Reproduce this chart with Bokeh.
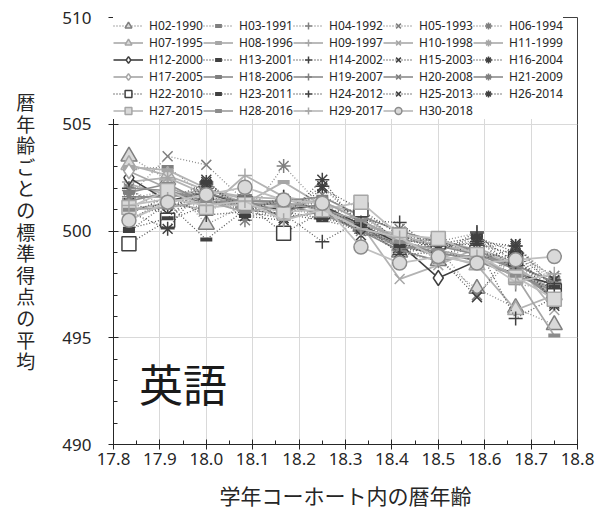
from bokeh.plotting import figure
from bokeh.models import (Legend, LegendItem, NumeralTickFormatter, FixedTicker, Range1d)
from bokeh.core.properties import value
from bokeh.embed import file_html
from bokeh.resources import INLINE

ages = [17.8333, 17.9167, 18.0, 18.0833, 18.1667, 18.25,
        18.3333, 18.4167, 18.5, 18.5833, 18.6667, 18.75]

series_names = [
    "H02-1990", "H03-1991", "H04-1992", "H05-1993", "H06-1994",
    "H07-1995", "H08-1996", "H09-1997", "H10-1998", "H11-1999",
    "H12-2000", "H13-2001", "H14-2002", "H15-2003", "H16-2004",
    "H17-2005", "H18-2006", "H19-2007", "H20-2008", "H21-2009",
    "H22-2010", "H23-2011", "H24-2012", "H25-2013", "H26-2014",
    "H27-2015", "H28-2016", "H29-2017", "H30-2018",
]

H02 = [503.5, 502.4, 500.3, 501.2, 501.0, 500.8, 500.2, 499.0, 498.6, 497.3, 496.4, 495.6]
H03 = [502.9, 503.0, 501.6, 501.1, 500.9, 501.4, 500.0, 499.3, 499.2, 499.6, 498.2, 497.8]
H04 = [501.5, 501.9, 500.9, 501.7, 501.1, 501.2, 499.9, 499.6, 499.5, 499.9, 497.5, 497.3]
H05 = [501.6, 503.5, 503.1, 501.4, 500.9, 501.7, 500.6, 500.1, 499.2, 497.0, 498.9, 497.9]
H06 = [501.9, 501.2, 502.1, 500.5, 503.05, 501.1, 500.7, 499.5, 498.7, 499.3, 499.3, 497.5]
H07 = [503.1, 502.6, 501.9, 501.5, 501.3, 501.0, 500.3, 499.3, 498.9, 498.4, 496.3, 497.0]
H08 = [503.0, 502.85, 502.0, 501.3, 502.3, 501.2, 500.3, 499.8, 499.3, 499.1, 498.3, 497.2]
H09 = [501.0, 501.3, 501.0, 502.6, 501.6, 501.3, 500.8, 499.5, 499.6, 499.1, 498.4, 497.6]
H10 = [502.2, 501.7, 501.9, 501.6, 501.5, 501.0, 500.3, 497.75, 498.4, 499.2, 498.5, 496.3]
H11 = [502.3, 502.5, 501.7, 501.3, 501.0, 501.2, 500.1, 499.6, 499.4, 498.9, 498.3, 497.0]
H12 = [502.5, 501.4, 501.8, 501.2, 501.0, 501.2, 500.3, 499.4, 497.8, 498.6, 498.0, 497.5]
H13 = [500.0, 501.3, 499.6, 501.0, 500.8, 500.5, 500.1, 499.2, 499.0, 499.8, 498.5, 497.5]
H14 = [502.0, 500.7, 501.7, 501.0, 500.8, 499.5, 500.5, 500.4, 498.9, 499.3, 495.9, 496.9]
H15 = [501.3, 500.8, 502.4, 500.7, 500.5, 502.0, 501.0, 499.4, 498.8, 496.9, 499.4, 497.2]
H16 = [500.5, 501.5, 502.2, 500.9, 500.6, 502.4, 500.1, 499.0, 499.2, 499.5, 499.3, 497.7]
H17 = [502.8, 502.0, 501.5, 501.4, 501.3, 501.0, 500.5, 499.6, 498.9, 498.8, 497.9, 497.3]
H18 = [501.8, 502.2, 501.3, 501.4, 501.4, 501.6, 500.7, 500.0, 499.5, 499.1, 498.2, 496.9]
H19 = [501.4, 501.8, 501.3, 501.5, 500.6, 500.9, 500.0, 499.1, 498.6, 498.9, 498.4, 497.6]
H20 = [502.0, 501.9, 501.4, 501.2, 501.3, 501.1, 500.2, 499.2, 499.3, 498.9, 498.2, 496.8]
H21 = [501.6, 501.6, 501.8, 501.3, 501.2, 500.8, 500.0, 499.4, 499.0, 498.6, 497.9, 497.2]
H22 = [499.4, 500.5, 501.2, 501.3, 499.9, 500.9, 501.0, 499.8, 499.5, 499.0, 498.7, 497.2]
H23 = [500.1, 500.6, 502.3, 500.7, 500.9, 500.6, 500.2, 499.3, 499.4, 499.7, 499.0, 497.4]
H24 = [500.8, 501.6, 500.75, 500.9, 501.6, 500.9, 500.4, 498.9, 499.0, 499.95, 498.0, 497.3]
H25 = [500.6, 501.2, 501.5, 500.9, 501.5, 501.2, 499.8, 499.8, 499.1, 498.6, 499.2, 496.5]
H26 = [500.9, 500.1, 502.3, 501.0, 500.8, 502.1, 500.3, 499.6, 499.3, 499.4, 498.9, 496.6]
H27 = [501.1, 501.9, 501.1, 501.25, 500.9, 501.0, 501.35, 499.8, 499.65, 498.9, 497.85, 496.8]
H28 = [501.0, 501.1, 501.4, 500.9, 501.2, 501.4, 500.5, 499.5, 499.1, 498.7, 497.9, 495.1]
H29 = [501.2, 501.5, 501.2, 501.4, 500.5, 501.0, 500.1, 499.7, 498.7, 498.8, 497.6, 498.0]
H30 = [500.5, 501.35, 501.7, 502.05, 501.45, 501.3, 499.25, 498.5, 498.8, 498.5, 498.65, 498.8]

all_values = [H02, H03, H04, H05, H06, H07, H08, H09, H10, H11, H12, H13, H14, H15, H16,
              H17, H18, H19, H20, H21, H22, H23, H24, H25, H26, H27, H28, H29, H30]

x_ticks = [17.8, 17.9, 18.0, 18.1, 18.2, 18.3, 18.4, 18.5, 18.6, 18.7, 18.8]
y_ticks = [490, 495, 500, 505, 510]

DOT = "1 2"
SOLID = "solid"
# (line_color, dash, line_width, marker, size, marker_line, marker_fill)
styles = [
    ("#8c8c8c", DOT, 1.3, "triangle", 16, "#7f7f7f", "#d9d9d9"),
    ("#8c8c8c", DOT, 1.3, "dash", 12, "#7f7f7f", None),
    ("#8c8c8c", DOT, 1.3, "cross", 14, "#7f7f7f", None),
    ("#8c8c8c", DOT, 1.3, "x", 14, "#7f7f7f", None),
    ("#8c8c8c", DOT, 1.3, "asterisk", 14, "#7f7f7f", None),
    ("#b3b3b3", SOLID, 1.8, "triangle", 16, "#a6a6a6", "#d9d9d9"),
    ("#b3b3b3", SOLID, 1.8, "dash", 12, "#a6a6a6", None),
    ("#b3b3b3", SOLID, 1.8, "cross", 14, "#a6a6a6", None),
    ("#b3b3b3", SOLID, 1.8, "x", 14, "#a6a6a6", None),
    ("#b3b3b3", SOLID, 1.8, "asterisk", 14, "#a6a6a6", None),
    ("#404040", SOLID, 1.6, "diamond", 15, "#404040", "#ffffff"),
    ("#595959", DOT, 1.3, "dash", 12, "#404040", None),
    ("#595959", DOT, 1.3, "cross", 14, "#404040", None),
    ("#595959", DOT, 1.3, "x", 14, "#404040", None),
    ("#595959", DOT, 1.3, "asterisk", 14, "#404040", None),
    ("#a6a6a6", SOLID, 1.6, "diamond", 15, "#a6a6a6", "#ffffff"),
    ("#8c8c8c", SOLID, 1.6, "dash", 12, "#7f7f7f", None),
    ("#8c8c8c", SOLID, 1.6, "cross", 14, "#7f7f7f", None),
    ("#8c8c8c", SOLID, 1.6, "x", 14, "#7f7f7f", None),
    ("#8c8c8c", SOLID, 1.6, "asterisk", 14, "#7f7f7f", None),
    ("#595959", DOT, 1.3, "square", 14, "#404040", "#ffffff"),
    ("#595959", DOT, 1.3, "dash", 12, "#404040", None),
    ("#595959", DOT, 1.3, "cross", 14, "#404040", None),
    ("#595959", DOT, 1.3, "x", 14, "#404040", None),
    ("#595959", DOT, 1.3, "asterisk", 14, "#404040", None),
    ("#bfbfbf", SOLID, 1.8, "square", 14, "#a6a6a6", "#d9d9d9"),
    ("#a6a6a6", SOLID, 1.8, "dash", 12, "#8c8c8c", None),
    ("#bfbfbf", SOLID, 1.8, "cross", 14, "#a6a6a6", None),
    ("#bfbfbf", SOLID, 1.8, "circle", 14, "#8c8c8c", "#d9d9d9"),
]

NUM_FONT = "Noto Sans"
CJK_FONT = "Noto Sans CJK JP"
TXT = "#262626"

p = figure(width=602, height=512, output_backend="svg", toolbar_location=None,
           x_range=Range1d(17.8, 18.8), y_range=Range1d(490, 510),
           min_border_left=113, min_border_right=25, min_border_top=17,
           min_border_bottom=67)
p.background_fill_color = "white"
p.border_fill_color = "white"
p.outline_line_color = "#404040"
p.outline_line_width = 1

p.xaxis.ticker = FixedTicker(ticks=x_ticks,
                             minor_ticks=[17.85, 17.95, 18.05, 18.15, 18.25, 18.35,
                                          18.45, 18.55, 18.65, 18.75])
p.yaxis.ticker = FixedTicker(ticks=y_ticks,
                             minor_ticks=[491, 492, 493, 494, 496, 497, 498, 499,
                                          501, 502, 503, 504, 506, 507, 508, 509])
p.xaxis.formatter = NumeralTickFormatter(format="0.0")
p.yaxis.formatter = NumeralTickFormatter(format="0")

for ax in (p.xaxis[0], p.yaxis[0]):
    ax.axis_line_color = "#262626"
    ax.major_tick_line_color = "#262626"
    ax.minor_tick_line_color = "#262626"
    ax.major_tick_in = 5
    ax.major_tick_out = 5
    ax.minor_tick_in = 4
    ax.minor_tick_out = 0
    ax.major_label_text_font = NUM_FONT
    ax.major_label_text_font_size = "17px"
    ax.major_label_text_color = TXT
    ax.axis_label_text_font = CJK_FONT
    ax.axis_label_text_font_style = "normal"
    ax.axis_label_text_color = TXT

p.xaxis.major_label_standoff = 3
p.xaxis.axis_label = "学年コーホート内の暦年齢"
p.xaxis.axis_label_text_font_size = "21px"
p.xaxis.axis_label_standoff = 12

p.yaxis.major_label_standoff = 17
p.yaxis.axis_label = "\n".join("暦年齢ごとの標準得点の平均")
p.yaxis.axis_label_orientation = "horizontal"
p.yaxis.axis_label_text_font_size = "19px"
p.yaxis.axis_label_text_line_height = 0.8
p.yaxis.axis_label_standoff = 24

p.xgrid.ticker = FixedTicker(ticks=x_ticks)
p.ygrid.ticker = FixedTicker(ticks=y_ticks)
p.xgrid.grid_line_color = "#d9d9d9"
p.ygrid.grid_line_color = "#d9d9d9"

items = []
for name, vals, st in zip(series_names, all_values, styles):
    lc, dash, lw, marker, size, mline, mfill = st
    lr = p.line(ages, vals, line_color=lc, line_dash=dash, line_width=lw)
    if marker == "dash":
        sr = p.scatter(ages, vals, marker="dash", size=size, line_color=mline, line_width=4)
    elif mfill is None:
        sr = p.scatter(ages, vals, marker=marker, size=size, line_color=mline, line_width=1.5)
    else:
        sr = p.scatter(ages, vals, marker=marker, size=size, line_color=mline,
                       fill_color=mfill, line_width=1.5)
    items.append(LegendItem(label=name, renderers=[lr, sr]))

p.text(x=[17.855], y=[492.9], text=["英語"], text_font=value(CJK_FONT),
       text_font_size="44px", text_color="#1a1a1a", text_baseline="middle",
       text_align="left")

legend = Legend(items=items, location="top_left", orientation="horizontal", ncols=5)
legend.margin = 0
legend.padding = 9
legend.spacing = 0
legend.glyph_width = 30
legend.glyph_height = 17
legend.label_height = 17
legend.label_width = 54
legend.label_standoff = 6
legend.label_text_font = NUM_FONT
legend.label_text_font_size = "12px"
legend.label_text_color = TXT
legend.border_line_color = None
legend.background_fill_color = "white"
legend.background_fill_alpha = 1.0
p.add_layout(legend, "center")

open("out.html", "w").write(file_html(p, INLINE))
